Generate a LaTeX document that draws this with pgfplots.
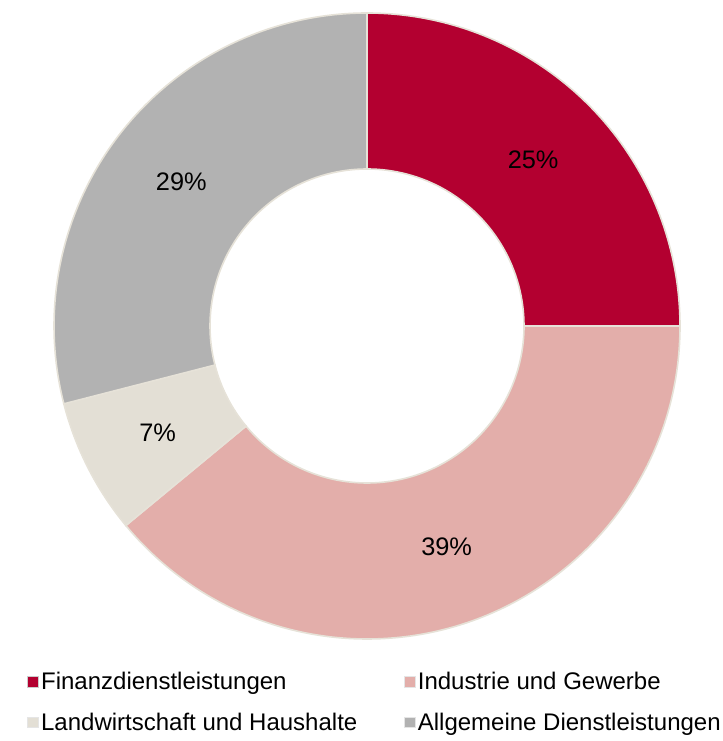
\documentclass[border=0pt]{standalone}
\usepackage{pgfplots}
\pgfplotsset{compat=1.18}
\usepackage{pgfplotstable}
\usepackage{fontspec}
\setmainfont{Liberation Sans}
\definecolor{cFin}{HTML}{B30030}
\definecolor{cInd}{HTML}{E3AEAA}
\definecolor{cLand}{HTML}{E3DFD5}
\definecolor{cAllg}{HTML}{B2B2B2}
\definecolor{cSep}{HTML}{E6E2D8}
\pgfplotstableread{
label value
Finanzdienstleistungen 25
Industrie 39
Landwirtschaft 7
Allgemeine 29
}\sharetable
\begin{document}
\begin{tikzpicture}
\pgfplotstablegetelem{0}{value}\of\sharetable \pgfmathsetmacro{\vA}{\pgfplotsretval}
\pgfplotstablegetelem{1}{value}\of\sharetable \pgfmathsetmacro{\vB}{\pgfplotsretval}
\pgfplotstablegetelem{2}{value}\of\sharetable \pgfmathsetmacro{\vC}{\pgfplotsretval}
\pgfplotstablegetelem{3}{value}\of\sharetable \pgfmathsetmacro{\vD}{\pgfplotsretval}
\pgfmathsetmacro{\aA}{90}
\pgfmathsetmacro{\aB}{\aA-3.6*\vA}
\pgfmathsetmacro{\aC}{\aB-3.6*\vB}
\pgfmathsetmacro{\aD}{\aC-3.6*\vC}
\pgfmathsetmacro{\aE}{\aD-3.6*\vD}
\def\Ro{234.75pt}
\def\Ri{117.75pt}
\def\Rm{176.25pt}
\begin{axis}[
  width=541.5pt, height=555.75pt, scale only axis,
  xmin=0, xmax=722, ymin=0, ymax=741,
  axis lines=none, clip=false,
  legend columns=2,
  legend cell align=left,
  legend style={draw=none, fill=none, inner sep=0pt,
    at={(axis cs:27,72)}, anchor=north west,
    font=\fontsize{18}{20}\selectfont,
    row sep=12pt,
    /tikz/every even column/.append style={column sep=33pt},
    nodes={inner sep=2pt}},
  legend image code/.code={\draw[#1, line width=0.4pt] (0pt,-4pt) rectangle (8pt,4pt);},
]
\def\seg#1#2#3{%
  \fill[#3, draw=cSep, line width=1.2pt, shift={(axis cs:367,415)}]
    (#1:\Ro) arc[start angle=#1, end angle=#2, radius=\Ro]
    -- (#2:\Ri) arc[start angle=#2, end angle=#1, radius=\Ri] -- cycle;}
\seg{\aA}{\aB}{cFin}
\seg{\aB}{\aC}{cInd}
\seg{\aC}{\aD}{cLand}
\seg{\aD}{\aE}{cAllg}
\pgfmathsetmacro{\mA}{(\aA+\aB)/2}
\pgfmathsetmacro{\mB}{(\aB+\aC)/2}
\pgfmathsetmacro{\mC}{(\aC+\aD)/2}
\pgfmathsetmacro{\mD}{(\aD+\aE)/2}
\begin{scope}[shift={(axis cs:367,415)}, font=\fontsize{19}{22}\selectfont]
\node at (\mA:\Rm) {25\%};
\node at (\mB:\Rm) {39\%};
\node at (\mC:\Rm) {7\%};
\node at (\mD:\Rm) {29\%};
\end{scope}
\addlegendimage{fill=cFin, draw=black!20}
\addlegendentry{Finanzdienstleistungen}
\addlegendimage{fill=cInd, draw=black!10}
\addlegendentry{Industrie und Gewerbe}
\addlegendimage{fill=cLand, draw=black!10}
\addlegendentry{Landwirtschaft und Haushalte}
\addlegendimage{fill=cAllg, draw=black!10}
\addlegendentry{Allgemeine Dienstleistungen}
\end{axis}
\pgfresetboundingbox
\path (current axis.south west) rectangle (current axis.north east);
\end{tikzpicture}
\end{document}
